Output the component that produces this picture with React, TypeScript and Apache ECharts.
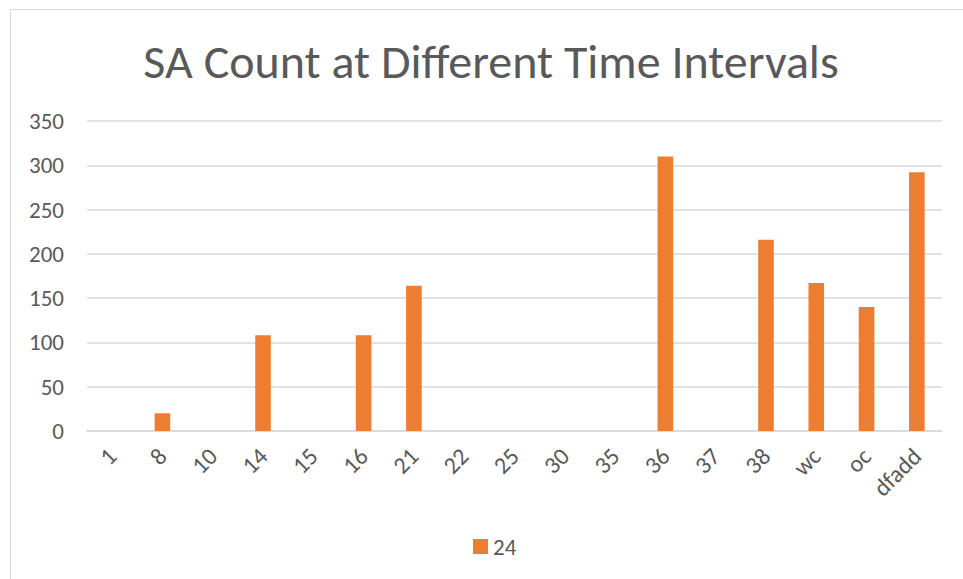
import React, { useEffect, useRef } from "react";
import * as echarts from "echarts";

const categories = ["1", "8", "10", "14", "15", "16", "21", "22", "25", "30", "35", "36", "37", "38", "wc", "oc", "dfadd"];
const seriesName = "24";
const values = [0, 20, 0, 108, 0, 108, 164, 0, 0, 0, 0, 310, 0, 216, 167, 140, 292];
const yTicks = { min: 0, max: 350, interval: 50 };

const FONT = "Carlito, 'Open Sans', sans-serif";
const TEXT = "#595959";
const GRID = "#d9d9d9";

export default function App() {
  const ref = useRef<HTMLDivElement>(null);

  useEffect(() => {
    if (!ref.current) return;
    const chart = echarts.init(ref.current, null, { renderer: "svg" });
    chart.setOption({
      animation: false,
      backgroundColor: "#ffffff",
      title: {
        text: "SA Count at Different Time Intervals",
        left: 486,
        textAlign: "center",
        top: 32,
        textStyle: { fontFamily: FONT, fontSize: 48, fontWeight: "normal", color: TEXT },
      },
      graphic: [
        {
          type: "rect",
          shape: { x: 10.5, y: 9.5, width: 1000, height: 700 },
          style: { fill: "none", stroke: GRID, lineWidth: 1 },
          silent: true,
        },
      ],
      legend: {
        top: 530,
        left: 468,
        itemWidth: 15,
        itemHeight: 15,
        icon: "rect",
        textStyle: { fontFamily: FONT, fontSize: 23, color: TEXT },
        data: [seriesName],
      },
      grid: { left: 87, right: 21, top: 121, bottom: 148, containLabel: false },
      xAxis: {
        type: "category",
        data: categories,
        axisLine: { lineStyle: { color: GRID, width: 1.5 } },
        axisTick: { show: false },
        axisLabel: {
          rotate: 45,
          margin: 21,
          interval: 0,
          fontFamily: FONT,
          fontSize: 24,
          color: TEXT,
        },
      },
      yAxis: {
        type: "value",
        min: yTicks.min,
        max: yTicks.max,
        interval: yTicks.interval,
        axisLine: { show: false },
        axisTick: { show: false },
        splitLine: { lineStyle: { color: GRID, width: 1.5 } },
        axisLabel: { margin: 23, fontFamily: FONT, fontSize: 23, color: TEXT },
      },
      series: [
        {
          name: seriesName,
          type: "bar",
          data: values,
          barWidth: "31%",
          itemStyle: { color: "#ED7D31" },
        },
      ],
    });
    return () => chart.dispose();
  }, []);

  return (
    <div
      ref={ref}
      style={{ position: "fixed", left: 0, top: 0, width: 963, height: 579 }}
    />
  );
}
